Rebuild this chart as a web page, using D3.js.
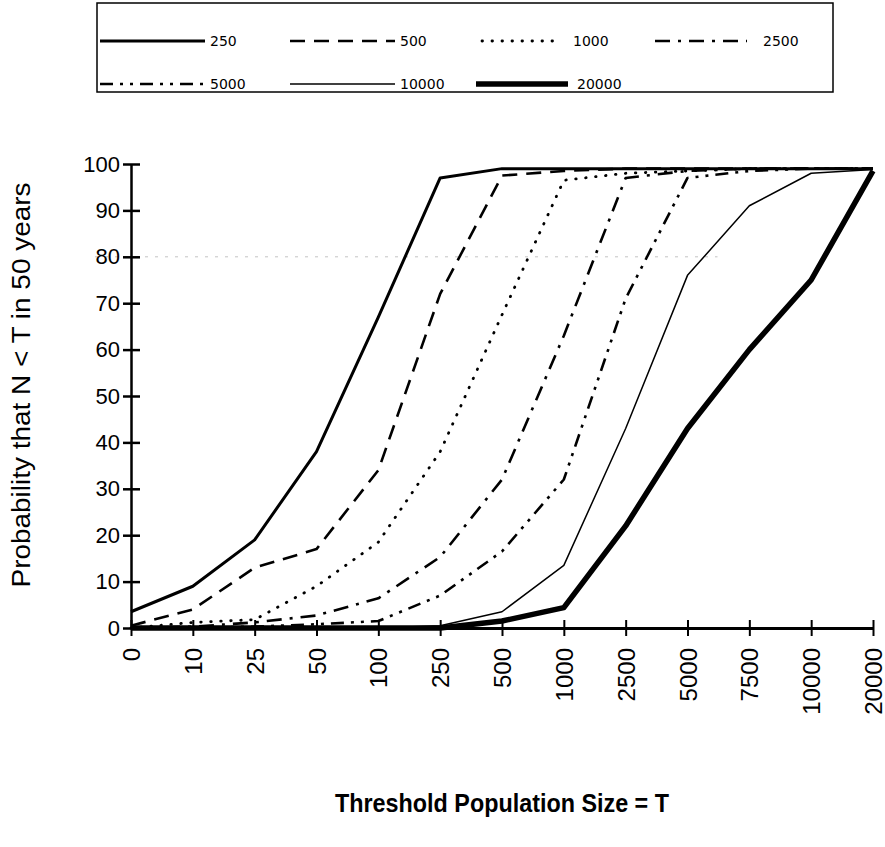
<!DOCTYPE html>
<html>
<head>
<meta charset="utf-8">
<script src="https://cdn.jsdelivr.net/npm/d3@7"></script>
<style>
  body { margin: 0; background: #fff; }
  svg { display: block; }
</style>
</head>
<body>
<svg id="chart" width="885" height="847"></svg>
<script>
// x categories (threshold population size T)
const thresholds = ["0", "10", "25", "50", "100", "250", "500", "1000", "2500", "5000", "7500", "10000", "20000"];
const yTickValues = [0, 10, 20, 30, 40, 50, 60, 70, 80, 90, 100];

// probability that N < T in 50 years, one array per initial population
const seriesNames = ["250", "500", "1000", "2500", "5000", "10000", "20000"];
const p250   = [3.5, 9, 19, 38, 67, 97, 99, 99, 99, 99, 99, 99, 99];
const p500   = [0.5, 4, 13, 17, 34, 72, 97.5, 98.5, 99, 99, 99, 99, 99];
const p1000  = [0, 1.2, 1.8, 9, 18.5, 38, 67.5, 96.5, 98, 98.5, 99, 99, 99];
const p2500  = [0, 0.3, 1.2, 2.7, 6.4, 15.3, 32, 63, 97, 98.5, 99, 99, 99];
const p5000  = [0, 0, 0.3, 0.8, 1.5, 7, 16.5, 32, 71, 97, 98.5, 99, 99];
const p10000 = [0, 0, 0, 0, 0, 0.5, 3.5, 13.5, 43, 76, 91, 98, 98.8];
const p20000 = [0, 0, 0, 0, 0, 0, 1.5, 4.4, 22, 43, 60, 75, 98.5];
const seriesValues = [p250, p500, p1000, p2500, p5000, p10000, p20000];

// line styles for each series
const styles = {
  "250":   { width: 3,   dash: null,           cap: "butt" },
  "500":   { width: 2.6, dash: "15 9",         cap: "butt" },
  "1000":  { width: 2.8, dash: "0.5 9.5",      cap: "round" },
  "2500":  { width: 2.6, dash: "15 8 3 8",     cap: "butt" },
  "5000":  { width: 2.6, dash: "13 7 3 7 3 7", cap: "butt" },
  "10000": { width: 1.5, dash: null,           cap: "butt" },
  "20000": { width: 5.5, dash: null,           cap: "butt" }
};

const svg = d3.select("#chart");
const margin = { top: 164, right: 12, bottom: 219, left: 131 };
const width = +svg.attr("width");
const height = +svg.attr("height");
const innerWidth = width - margin.left - margin.right;
const innerHeight = height - margin.top - margin.bottom;

const g = svg.append("g")
  .attr("transform", `translate(${margin.left},${margin.top})`);

const x = d3.scalePoint()
  .domain(thresholds)
  .range([0, innerWidth]);

const y = d3.scaleLinear()
  .domain([0, 100])
  .range([innerHeight, 0]);

// faint dotted scan line seen at the 80 level
g.append("line")
  .attr("x1", -36)
  .attr("x2", x("5000") + 30)
  .attr("y1", y(80))
  .attr("y2", y(80))
  .attr("stroke", "#c4c4c4")
  .attr("stroke-width", 1)
  .attr("stroke-dasharray", "3 7");

// axes: ticks cross the axis line
const yAxis = d3.axisLeft(y)
  .tickValues(yTickValues)
  .tickSizeInner(8)
  .tickSizeOuter(0)
  .tickPadding(3);

const yG = g.append("g").call(yAxis);
yG.select(".domain").attr("stroke-width", 2.5);
yG.selectAll(".tick line")
  .attr("x1", 9)
  .attr("stroke-width", 2.5);
yG.selectAll(".tick text")
  .attr("font-family", "'Liberation Sans', Arial, sans-serif")
  .attr("font-size", 22)
  .attr("fill", "#000");

const xAxis = d3.axisBottom(x)
  .tickSizeInner(8)
  .tickSizeOuter(0)
  .tickPadding(20);

const xG = g.append("g")
  .attr("transform", `translate(0,${innerHeight})`)
  .call(xAxis);
xG.select(".domain").attr("stroke-width", 3);
xG.selectAll(".tick line")
  .attr("y1", -8)
  .attr("stroke-width", 2);
xG.selectAll(".tick text")
  .attr("font-family", "'Liberation Sans Narrow', 'Arial Narrow', sans-serif")
  .attr("font-size", 24)
  .attr("fill", "#000")
  .attr("transform", "rotate(-90)")
  .attr("text-anchor", "end")
  .attr("x", -20)
  .attr("y", 0)
  .attr("dy", "0.36em");

// series lines
const line = d3.line()
  .x((d, i) => x(thresholds[i]))
  .y(d => y(d));

const series = seriesNames.map((name, i) => ({ name, values: seriesValues[i] }));

g.selectAll("path.series")
  .data(series)
  .enter()
  .append("path")
  .attr("class", "series")
  .attr("fill", "none")
  .attr("stroke", "#000")
  .attr("stroke-linejoin", "round")
  .attr("stroke-width", d => styles[d.name].width)
  .attr("stroke-dasharray", d => styles[d.name].dash)
  .attr("stroke-linecap", d => styles[d.name].cap)
  .attr("d", d => line(d.values));

// axis titles
svg.append("text")
  .attr("transform", `translate(30,385) rotate(-90)`)
  .attr("text-anchor", "middle")
  .attr("font-family", "'Liberation Sans Narrow', 'Arial Narrow', sans-serif")
  .attr("font-size", 25)
  .attr("textLength", 405)
  .attr("lengthAdjust", "spacingAndGlyphs")
  .text("Probability that N < T in 50 years");

svg.append("text")
  .attr("x", margin.left + innerWidth / 2)
  .attr("y", 812)
  .attr("text-anchor", "middle")
  .attr("font-family", "'Liberation Sans Narrow', 'Arial Narrow', sans-serif")
  .attr("font-weight", "bold")
  .attr("font-size", 26)
  .attr("textLength", 334)
  .attr("lengthAdjust", "spacingAndGlyphs")
  .text("Threshold Population Size = T");

// legend box
const legend = svg.append("g");
legend.append("rect")
  .attr("x", 97)
  .attr("y", 3)
  .attr("width", 736)
  .attr("height", 89)
  .attr("fill", "none")
  .attr("stroke", "#000")
  .attr("stroke-width", 1.5);

const legendLineX = [100, 290, 482, 655];
const legendLineLen = [105, 105, 75, 92];
const legendTextX = [210, 400, 573, 763];
const legendRows = [41, 84];

const items = legend.selectAll("g.item")
  .data(series)
  .enter()
  .append("g")
  .attr("class", "item")
  .attr("transform", (d, i) => `translate(0,${legendRows[Math.floor(i / 4)]})`);

items.append("line")
  .attr("x1", (d, i) => (i === 6 ? 476 : legendLineX[i % 4]))
  .attr("x2", (d, i) => (i === 6 ? 568 : legendLineX[i % 4] + legendLineLen[i % 4]))
  .attr("stroke", "#000")
  .attr("stroke-width", d => styles[d.name].width)
  .attr("stroke-dasharray", d => styles[d.name].dash)
  .attr("stroke-linecap", d => styles[d.name].cap);

items.append("text")
  .attr("x", (d, i) => (i === 6 ? 577 : legendTextX[i % 4]))
  .attr("dy", "0.36em")
  .attr("font-family", "'DejaVu Sans', sans-serif")
  .attr("font-size", 14)
  .text(d => d.name);
</script>
</body>
</html>
